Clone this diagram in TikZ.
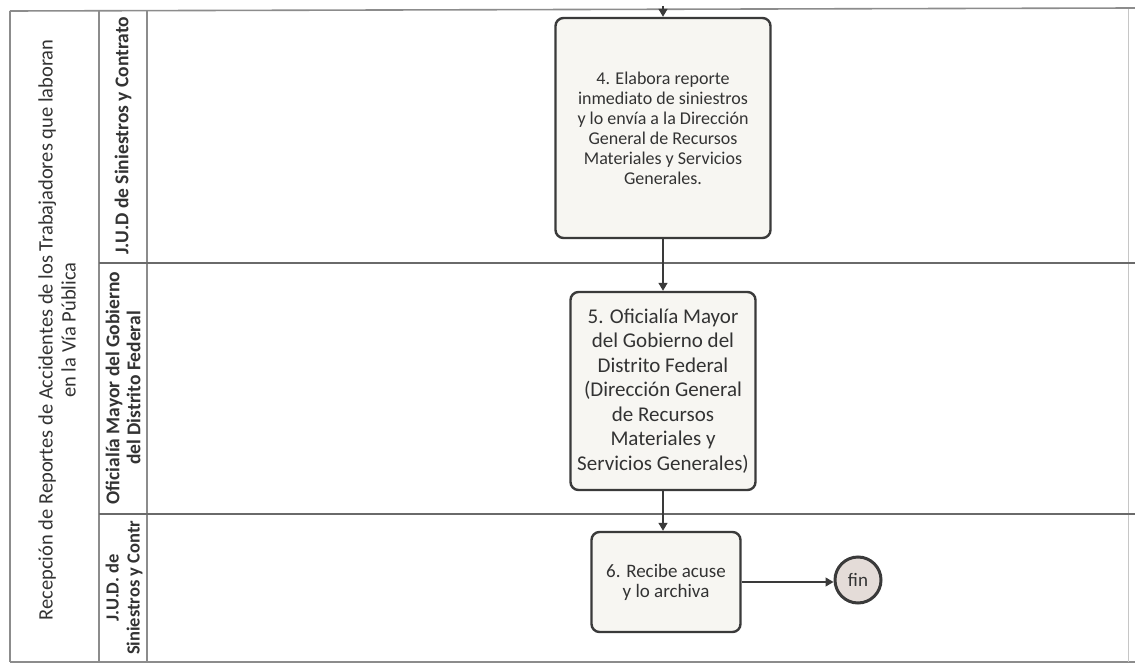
\documentclass[tikz,border=0pt]{standalone}
\usepackage{fontspec}
\setmainfont{Carlito}
\usetikzlibrary{arrows.meta}
\definecolor{frameline}{HTML}{8C8C8C}
\definecolor{laneline}{HTML}{6A6A6A}
\definecolor{boxline}{HTML}{3A3A3A}
\definecolor{boxfill}{HTML}{F7F6F2}
\definecolor{endfill}{HTML}{E4DCD8}
\definecolor{inktext}{HTML}{333333}
\tikzset{
  frame/.style={draw=frameline, line width=1.6pt},
  lanesep/.style={draw=laneline, line width=1.8pt},
  task/.style={draw=boxline, fill=boxfill, line width=2.4pt, rounded corners=8pt,
    align=center, text=inktext, inner sep=2pt},
  endevent/.style={circle, draw=boxline, fill=endfill, line width=3pt,
    minimum size=46pt, inner sep=0pt, text=inktext, font=\fontsize{19}{20}\selectfont},
  flow/.style={draw=boxline, line width=1.3pt, -{Triangle[width=9pt,length=8pt]}},
  pooltitle/.style={rotate=90, align=center, text=inktext, font=\fontsize{20.5}{23}\selectfont},
  lanetitle/.style={rotate=90, align=center, text=inktext, font=\bfseries\fontsize{19.5}{21}\selectfont},
}
\begin{document}
\begin{tikzpicture}[x=1pt, y=-1pt]
\useasboundingbox (0,0) rectangle (1135,666);
\fill[white] (0,0) rectangle (1135,666);

% pool frame and columns
\path[frame] (10,11) -- (1135,8);
\path[frame] (10,662) -- (1135,662);
\path[frame] (10,11) -- (10,662);
\path[frame] (99,11) -- (99,662);
\path[frame] (147,11) -- (147,662);
\draw[frameline!50, line width=0.8pt] (1128,9) -- (1128,662);

% lane separators
\path[lanesep] (99,263) -- (1135,263);
\path[lanesep] (99,514) -- (1135,514);

% pool title
\node[pooltitle] (pool) at (57,330) {Recepción de Reportes de Accidentes de los Trabajadores que laboran\\en la Vía Pública};

% lane titles, clipped to their cells
\begin{scope}
  \clip (99,11) rectangle (147,263);
  \node[lanetitle, anchor=west] (lane1) at (123,258) {J.U.D de Siniestros y Contrato};
\end{scope}
\begin{scope}
  \clip (99,263) rectangle (147,514);
  \node[lanetitle] (lane2) at (123,388) {Oficialía Mayor del Gobierno\\del Distrito Federal};
\end{scope}
\begin{scope}
  \clip (99,514) rectangle (147,662);
  \node[lanetitle, font=\bfseries\fontsize{18.5}{21}\selectfont] (lane3) at (124,588) {J.U.D. de\\Siniestros y Contr};
\end{scope}

% activities
\node[task, minimum width=215pt, minimum height=220pt, font=\fontsize{18}{20}\selectfont] (t4) at (663,128)
  {4. Elabora reporte\\inmediato de siniestros\\y lo envía a la Dirección\\General de Recursos\\Materiales y Servicios\\Generales.};
\node[task, minimum width=185pt, minimum height=198pt, font=\fontsize{21}{24.5}\selectfont] (t5) at (663,391)
  {5. Oficialía Mayor\\del Gobierno del\\Distrito Federal\\(Dirección General\\de Recursos\\Materiales y\\Servicios Generales)};
\node[task, minimum width=149pt, minimum height=100pt, font=\fontsize{19}{20}\selectfont] (t6) at (666,582)
  {6. Recibe acuse\\y lo archiva};
\node[endevent] (fin) at (858,580) {fin};

% sequence flows
\coordinate (entry) at (663,6);
\draw[flow] (entry) -- (t4.north);
\draw[flow] (t4.south) -- (t5.north);
\draw[flow] (t5.south) -- (t5.south |- t6.north);
\draw[flow] (t6.east) -- (fin.west |- t6.east);
\end{tikzpicture}
\end{document}
